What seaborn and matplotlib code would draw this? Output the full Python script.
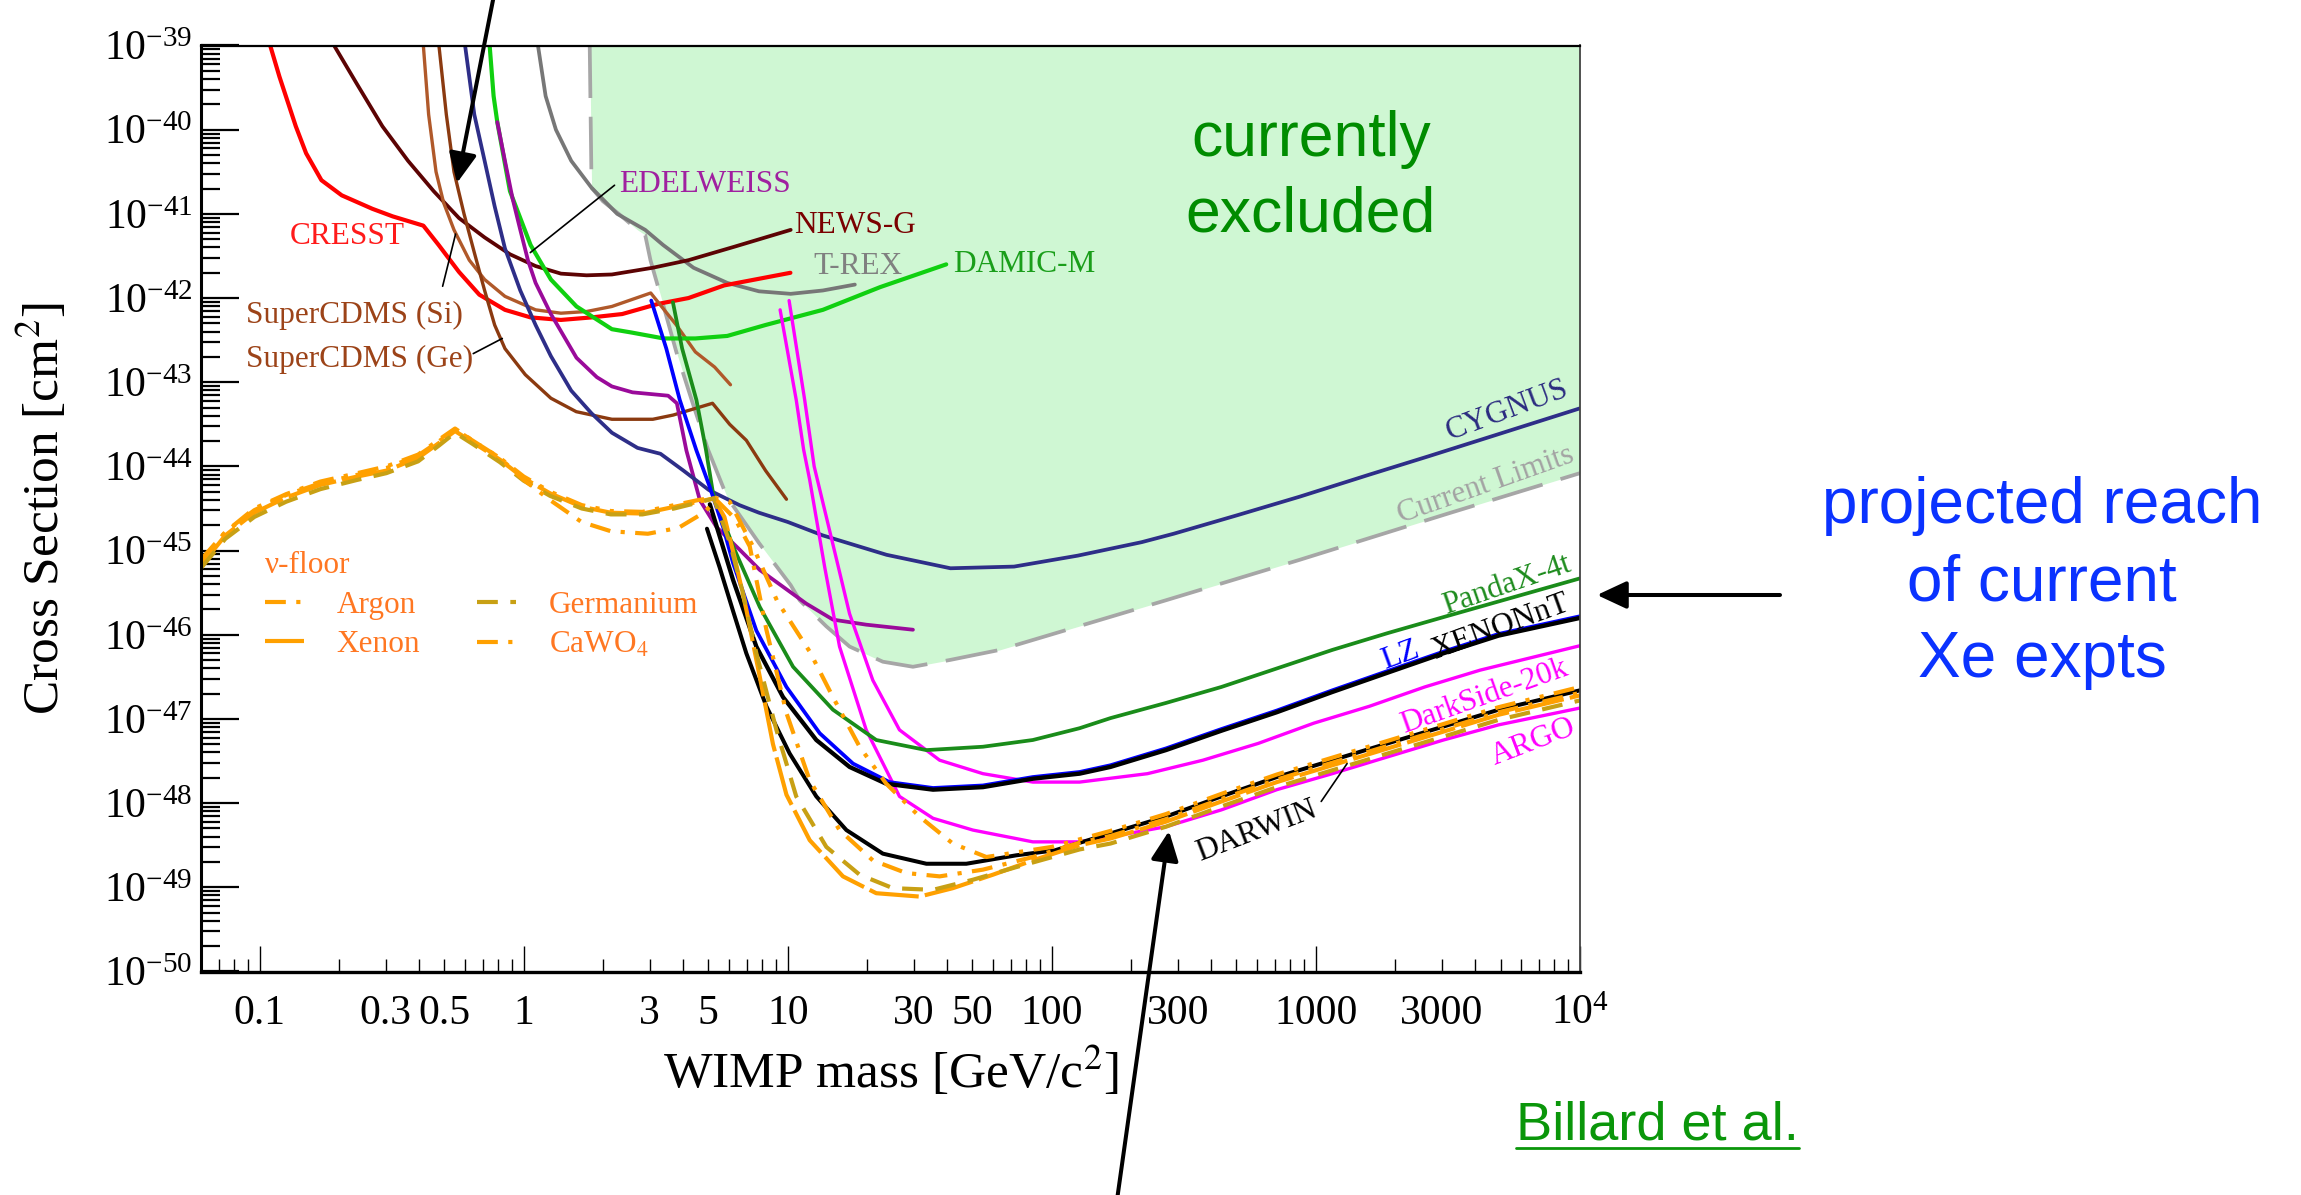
import numpy as np
import pandas as pd
import matplotlib
matplotlib.use("Agg")
import matplotlib.pyplot as plt
import matplotlib.ticker as mticker
from matplotlib.lines import Line2D
import seaborn as sns

# ------------------------------------------------------------------
# Curves: log10(WIMP mass / GeV c^-2) and log10(cross section / cm^2)
# ------------------------------------------------------------------
cresst_logm = [-0.96, -0.925, -0.863, -0.824, -0.766, -0.689, -0.573, -0.496, -0.38, -0.322,
               -0.245, -0.168, -0.071, 0.026, 0.141, 0.257, 0.373, 0.508, 0.624, 0.759, 1.01]
cresst_logs = [-39.0, -39.37, -39.96, -40.28, -40.6, -40.78, -40.94, -41.03, -41.14, -41.37,
               -41.69, -41.96, -42.14, -42.23, -42.26, -42.23, -42.19, -42.07, -42.0, -41.85, -41.7]

newsg_logm = [-0.718, -0.631, -0.535, -0.438, -0.341, -0.245, -0.148, -0.052, 0.045, 0.141,
              0.238, 0.334, 0.489, 0.624, 0.798, 1.011]
newsg_logs = [-39.0, -39.46, -39.96, -40.37, -40.73, -41.05, -41.28, -41.48, -41.62, -41.71,
              -41.73, -41.72, -41.64, -41.55, -41.39, -41.19]

cdms_si_logm = [-0.38, -0.36, -0.332, -0.303, -0.264, -0.206, -0.148, -0.071, 0.045, 0.141,
                0.238, 0.334, 0.481, 0.578, 0.65, 0.723, 0.783]
cdms_si_logs = [-39.0, -39.82, -40.5, -40.87, -41.19, -41.55, -41.78, -41.98, -42.14, -42.18,
                -42.16, -42.1, -41.94, -42.32, -42.64, -42.82, -43.03]

cdms_ge_logm = [-0.321, -0.293, -0.264, -0.226, -0.187, -0.148, -0.11, -0.071, 0.006, 0.103,
                0.199, 0.334, 0.489, 0.566, 0.715, 0.78, 0.843, 0.916, 0.995]
cdms_ge_logs = [-39.0, -39.82, -40.5, -41.0, -41.46, -41.91, -42.32, -42.6, -42.91, -43.19,
                -43.35, -43.44, -43.44, -43.39, -43.25, -43.5, -43.69, -44.05, -44.39]

edelweiss_logm = [-0.1, -0.071, -0.042, -0.013, 0.016, 0.045, 0.103, 0.2, 0.277, 0.334, 0.412,
                  0.547, 0.58, 0.616, 0.667, 0.73, 0.818, 0.894, 0.982, 1.07, 1.171, 1.297, 1.474]
edelweiss_logs = [-39.91, -40.37, -40.82, -41.19, -41.55, -41.82, -42.19, -42.71, -42.94, -43.05,
                  -43.12, -43.16, -43.25, -43.81, -44.40, -44.72, -44.99, -45.23, -45.43, -45.63,
                  -45.82, -45.88, -45.94]

damic_logm = [-0.129, -0.114, -0.1, -0.052, 0.026, 0.103, 0.2, 0.334, 0.409, 0.53, 0.65, 0.771,
              0.916, 1.133, 1.35, 1.6]
damic_logs = [-39.0, -39.6, -39.91, -40.73, -41.37, -41.78, -42.1, -42.37, -42.41, -42.48, -42.48,
              -42.45, -42.32, -42.14, -41.87, -41.6]

trex_logm = [0.054, 0.083, 0.122, 0.18, 0.257, 0.354, 0.46, 0.528, 0.643, 0.771, 0.891, 1.011,
             1.133, 1.254]
trex_logs = [-39.0, -39.6, -40.0, -40.37, -40.69, -41.0, -41.19, -41.37, -41.64, -41.82, -41.92,
             -41.95, -41.91, -41.84]

limits_logm = [0.25, 0.257, 0.3, 0.36, 0.431, 0.46, 0.48, 0.53, 0.578, 0.638, 0.698, 0.771, 0.891,
               1.011, 1.045, 1.146, 1.234, 1.36, 1.474, 1.613, 1.802, 2.432, 2.938, 3.5, 4.0]
limits_logs = [-39.0, -40.69, -40.85, -41.0, -41.19, -41.25, -41.55, -42.1, -42.64, -43.23, -43.8,
               -44.37, -44.91, -45.41, -45.59, -45.9, -46.14, -46.32, -46.38, -46.3, -46.18,
               -45.59, -45.11, -44.56, -44.08]

cygnus_logm = [-0.222, -0.187, -0.148, -0.11, -0.071, -0.013, 0.045, 0.103, 0.18, 0.257, 0.334,
               0.431, 0.518, 0.605, 0.701, 0.817, 0.891, 1.0, 1.133, 1.374, 1.616, 1.857, 2.098,
               2.34, 2.461, 2.702, 2.938, 3.2, 3.426, 3.668, 4.0]
cygnus_logs = [-39.0, -39.82, -40.37, -40.91, -41.41, -41.91, -42.32, -42.69, -43.1, -43.37, -43.6,
               -43.78, -43.85, -44.05, -44.28, -44.46, -44.55, -44.66, -44.82, -45.05, -45.21,
               -45.19, -45.06, -44.9, -44.8, -44.58, -44.36, -44.1, -43.88, -43.64, -43.31]

pandax_logm = [0.565, 0.6, 0.654, 0.69, 0.717, 0.793, 0.894, 1.02, 1.171, 1.335, 1.525, 1.739,
               1.928, 2.105, 2.222, 2.432, 2.642, 2.852, 3.062, 3.272, 3.483, 3.73, 4.0]
pandax_logs = [-42.05, -42.6, -43.21, -43.8, -44.32, -44.95, -45.67, -46.38, -46.89, -47.25,
               -47.37, -47.33, -47.25, -47.11, -46.99, -46.81, -46.62, -46.40, -46.18, -45.98,
               -45.79, -45.57, -45.33]

lz_logm = [0.483, 0.54, 0.591, 0.654, 0.704, 0.755, 0.793, 0.881, 0.995, 1.121, 1.247, 1.385,
           1.55, 1.739, 1.928, 2.105, 2.222, 2.432, 2.642, 2.852, 3.062, 3.272, 3.483, 3.692, 4.0]
lz_logs = [-42.03, -42.6, -43.21, -43.81, -44.24, -44.72, -45.15, -45.95, -46.62, -47.17, -47.53,
           -47.75, -47.82, -47.79, -47.69, -47.63, -47.55, -47.35, -47.12, -46.90, -46.66, -46.43,
           -46.20, -45.99, -45.78]

xenonnt_logm = [0.705, 0.793, 0.881, 0.982, 1.108, 1.234, 1.373, 1.55, 1.739, 1.928, 2.105, 2.222,
                2.432, 2.642, 2.852, 3.062, 3.272, 3.483, 3.692, 4.0]
xenonnt_logs = [-44.45, -45.35, -46.14, -46.74, -47.25, -47.57, -47.77, -47.84, -47.81, -47.71,
                -47.65, -47.57, -47.37, -47.14, -46.92, -46.68, -46.45, -46.22, -46.01, -45.80]

darwin_logm = [0.694, 0.742, 0.793, 0.843, 0.919, 1.007, 1.108, 1.222, 1.36, 1.525, 1.676, 1.865,
               2.012, 2.222, 2.432, 2.642, 2.852, 3.062, 3.272, 3.483, 3.692, 4.0]
darwin_logs = [-44.74, -45.2, -45.72, -46.22, -46.85, -47.41, -47.92, -48.32, -48.6, -48.72,
               -48.72, -48.62, -48.56, -48.36, -48.16, -47.92, -47.69, -47.49, -47.29, -47.09,
               -46.89, -46.66]

darkside_logm = [1.005, 1.064, 1.1, 1.146, 1.234, 1.322, 1.423, 1.575, 1.739, 1.928, 2.105, 2.362,
                 2.572, 2.782, 2.992, 3.202, 3.412, 3.622, 4.0]
darkside_logs = [-42.03, -43.21, -44.0, -44.6, -45.75, -46.54, -47.13, -47.49, -47.65, -47.75,
                 -47.75, -47.65, -47.49, -47.29, -47.05, -46.85, -46.62, -46.42, -46.13]

argo_logm = [0.971, 1.032, 1.06, 1.083, 1.14, 1.196, 1.297, 1.423, 1.55, 1.701, 1.928, 2.105,
             2.222, 2.432, 2.642, 2.852, 3.062, 3.272, 3.483, 3.692, 4.0]
argo_logs = [-42.14, -43.21, -43.8, -44.16, -45.2, -46.14, -47.13, -47.92, -48.18, -48.32, -48.46,
             -48.46, -48.40, -48.28, -48.08, -47.84, -47.65, -47.45, -47.25, -47.07, -46.87]

# ---- neutrino floors ----
floor_xe_logm = [-1.22, -1.13, -1.02, -0.9, -0.77, -0.63, -0.52, -0.4, -0.32, -0.26, -0.19, -0.09,
                 0.0, 0.1, 0.22, 0.33, 0.45, 0.57, 0.66, 0.72, 0.76, 0.8, 0.843, 0.894, 0.944,
                 0.995, 1.083, 1.209, 1.335, 1.499, 1.625, 1.777, 1.928, 2.105, 2.222, 2.432,
                 2.642, 2.852, 3.062, 3.272, 3.483, 3.692, 4.0]
floor_xe_logs = [-45.17, -44.82, -44.55, -44.37, -44.22, -44.12, -44.05, -43.9, -43.72, -43.58,
                 -43.72, -43.92, -44.14, -44.32, -44.48, -44.55, -44.56, -44.48, -44.42, -44.38,
                 -44.6, -45.1, -45.7, -46.5, -47.3, -47.9, -48.44, -48.87, -49.07, -49.11, -49.01,
                 -48.85, -48.68, -48.5, -48.42, -48.22, -47.98, -47.75, -47.55, -47.35, -47.15,
                 -46.95, -46.72]

floor_ge_logm = [-1.22, -1.13, -1.02, -0.9, -0.77, -0.63, -0.52, -0.4, -0.32, -0.26, -0.19, -0.09,
                 0.0, 0.1, 0.22, 0.33, 0.45, 0.57, 0.66, 0.72, 0.78, 0.83, 0.881, 0.957, 1.032,
                 1.146, 1.272, 1.398, 1.55, 1.701, 1.865, 2.105, 2.222, 2.432, 2.642, 2.852,
                 3.062, 3.272, 3.483, 3.692, 4.0]
floor_ge_logs = [-45.2, -44.86, -44.6, -44.42, -44.27, -44.16, -44.08, -43.94, -43.75, -43.6,
                 -43.74, -43.95, -44.17, -44.35, -44.5, -44.57, -44.57, -44.5, -44.43, -44.38,
                 -44.9, -45.5, -46.22, -47.13, -47.92, -48.52, -48.85, -49.01, -49.03, -48.91,
                 -48.76, -48.55, -48.48, -48.28, -48.04, -47.81, -47.61, -47.41, -47.21, -47.01,
                 -46.78]

floor_ar_logm = [-1.22, -1.13, -1.02, -0.9, -0.77, -0.63, -0.52, -0.4, -0.32, -0.26, -0.19, -0.09,
                 0.0, 0.1, 0.22, 0.33, 0.45, 0.57, 0.66, 0.72, 0.78, 0.868, 0.96, 1.083, 1.171,
                 1.272, 1.373, 1.499, 1.625, 1.752, 2.0, 2.222, 2.432, 2.642, 2.852, 3.062, 3.272,
                 3.483, 3.692, 4.0]
floor_ar_logs = [-45.12, -44.78, -44.52, -44.34, -44.2, -44.1, -44.02, -43.87, -43.7, -43.56,
                 -43.7, -43.9, -44.12, -44.3, -44.46, -44.53, -44.54, -44.46, -44.4, -44.37,
                 -44.42, -44.95, -45.6, -46.2, -46.74, -47.33, -47.77, -48.16, -48.48, -48.64,
                 -48.52, -48.33, -48.13, -47.89, -47.66, -47.46, -47.26, -47.06, -46.86, -46.62]

floor_cawo_logm = [-1.22, -1.13, -1.02, -0.9, -0.77, -0.63, -0.52, -0.4, -0.32, -0.26, -0.19,
                   -0.09, 0.0, 0.1, 0.219, 0.33, 0.47, 0.586, 0.682, 0.73, 0.8, 0.856, 0.919,
                   0.995, 1.083, 1.196, 1.322, 1.448, 1.575, 1.739, 1.928, 2.105, 2.222, 2.432,
                   2.642, 2.852, 3.062, 3.272, 3.483, 3.692, 4.0]
floor_cawo_logs = [-45.1, -44.78, -44.5, -44.33, -44.18, -44.08, -44.0, -43.86, -43.68, -43.55,
                   -43.7, -43.9, -44.16, -44.4, -44.66, -44.77, -44.8, -44.73, -44.55, -44.4,
                   -44.62, -44.95, -45.94, -46.93, -47.73, -48.32, -48.68, -48.83, -48.87, -48.79,
                   -48.64, -48.47, -48.39, -48.19, -47.95, -47.72, -47.52, -47.32, -47.12,
                   -46.92, -46.69]

# ---- axis ticks ----
x_major_ticks = [0.1, 1, 10, 100, 1000, 1e4]
x_major_labels = ["0.1", "1", "10", "100", "1000", r"$\mathdefault{10^{4}}$"]
x_minor_labels = {0.3: "0.3", 0.5: "0.5", 3: "3", 5: "5", 30: "30", 50: "50",
                  300: "300", 3000: "3000"}
y_decades = list(range(-50, -38))

# ------------------------------------------------------------------
sns.set_theme(style="white")
plt.rcParams["font.family"] = ["Liberation Serif", "DejaVu Serif"]
plt.rcParams["mathtext.fontset"] = "stix"

W, H = 2301, 1195
fig = plt.figure(figsize=(W / 100, H / 100), dpi=100)
fig.patch.set_facecolor("white")
ax = fig.add_axes([201 / W, 1 - 971.5 / H, (1580 - 201) / W, (971.5 - 45.5) / H])
ax.set_facecolor("white")
ax.set_xscale("log")
ax.set_yscale("log")


def curve(logm, logs, color, lw, style="-", z=2.0):
    df = pd.DataFrame({"mass": np.power(10.0, logm), "xsec": np.power(10.0, logs)})
    sns.lineplot(data=df, x="mass", y="xsec", ax=ax, color=color, linewidth=lw,
                 linestyle=style, sort=False, estimator=None, legend=False, zorder=z)
    line = ax.lines[-1]
    line.set_solid_joinstyle("round")
    line.set_dash_joinstyle("round")
    return line


# excluded region above the current limits
lim_m = np.power(10.0, limits_logm)
lim_s = np.power(10.0, limits_logs)
ax.fill_between(lim_m, lim_s, 1e-39, color="#cff7d3", lw=0, zorder=0.5)

curve(limits_logm, limits_logs, "#a6a6a6", 2.7, (0, (14, 5)), z=1.5)
curve(trex_logm, trex_logs, "#777777", 2.7)
curve(cresst_logm, cresst_logs, "#ff0000", 3.0)
curve(newsg_logm, newsg_logs, "#5c0303", 2.7)
curve(cdms_si_logm, cdms_si_logs, "#b0592a", 2.4)
curve(cdms_ge_logm, cdms_ge_logs, "#8b3a10", 2.4)
curve(damic_logm, damic_logs, "#10d010", 3.0)
curve(edelweiss_logm, edelweiss_logs, "#9a0a9a", 2.7)
curve(cygnus_logm, cygnus_logs, "#2e2e88", 2.7)
curve(darkside_logm, darkside_logs, "#ff00ff", 2.4)
curve(argo_logm, argo_logs, "#ff00ff", 2.4)
curve(pandax_logm, pandax_logs, "#1a8c1a", 2.7)
curve(lz_logm, lz_logs, "#0000ff", 2.7)
curve(xenonnt_logm, xenonnt_logs, "#000000", 3.1)
curve(darwin_logm, darwin_logs, "#000000", 2.9)

orange = "#ffa000"
h_ar = curve(floor_ar_logm, floor_ar_logs, orange, 3.0, (0, (5, 2.5, 1, 2.5, 1, 2.5)), z=3)
h_xe = curve(floor_xe_logm, floor_xe_logs, orange, 3.0, (0, (12, 1.5)), z=3)
h_ge = curve(floor_ge_logm, floor_ge_logs, "#c8a014", 3.0, (0, (5, 3)), z=3)
h_ca = curve(floor_cawo_logm, floor_cawo_logs, orange, 3.0, (0, (5, 2.5, 1, 2.5)), z=3)

ax.set_xlim(10 ** -1.222, 1e4)
ax.set_ylim(1e-50, 1e-39)

# ---- ticks ----
minor_x = [d * 10.0 ** e for e in range(-2, 4) for d in range(2, 10)]
minor_x = [v for v in minor_x if 0.06 <= v < 1e4]
ax.xaxis.set_major_locator(mticker.FixedLocator(x_major_ticks))
ax.xaxis.set_major_formatter(mticker.FixedFormatter(x_major_labels))
ax.xaxis.set_minor_locator(mticker.FixedLocator(minor_x))


def minor_fmt(v, pos):
    for k, s in x_minor_labels.items():
        if abs(v / k - 1) < 1e-6:
            return s
    return ""


ax.xaxis.set_minor_formatter(mticker.FuncFormatter(minor_fmt))
ax.yaxis.set_major_locator(mticker.FixedLocator([10.0 ** e for e in y_decades]))
ax.yaxis.set_major_formatter(mticker.FixedFormatter(
    [r"$\mathdefault{10^{%d}}$" % e for e in y_decades]))
ax.yaxis.set_minor_locator(mticker.LogLocator(base=10, subs=np.arange(2, 10), numticks=100))
ax.yaxis.set_minor_formatter(mticker.NullFormatter())

ax.tick_params(axis="x", which="major", direction="in", length=19, width=1.0, pad=37.5,
               labelsize=30, bottom=True, top=False, colors="black")
ax.tick_params(axis="x", which="minor", direction="in", length=9.5, width=1.0, pad=37.5,
               labelsize=30, bottom=True, top=False, colors="black")
ax.tick_params(axis="y", which="major", direction="in", length=27, width=1.6, pad=6,
               labelsize=30, left=True, right=False, colors="black")
ax.tick_params(axis="y", which="minor", direction="in", length=14, width=1.6,
               left=True, right=False, colors="black")
for lab in ax.get_xticklabels(which="both"):
    lab.set_verticalalignment("baseline")

for side, lw in (("left", 2.2), ("bottom", 2.4), ("top", 1.6), ("right", 1.3)):
    ax.spines[side].set_visible(True)
    ax.spines[side].set_linewidth(lw)
    ax.spines[side].set_color("black" if side != "right" else "#444444")
    ax.spines[side].set_zorder(5)

ax.set_xlabel("WIMP mass [GeV/c$^2$]", fontsize=37, color="black")
ax.set_ylabel("Cross Section [cm$^2$]", fontsize=37, color="black")
ax.xaxis.set_label_coords(0.5, -0.079)
ax.yaxis.set_label_coords(-0.095, 0.5)

# ---- curve labels ----
lab_kw = dict(fontsize=22.5, zorder=6)


def lg(v):
    return 10.0 ** v


ax.text(lg(-0.667), lg(-41.27), "CRESST", color="#ff1a1a", ha="center", va="center", **lab_kw)
ax.text(lg(-1.052), lg(-42.21), "SuperCDMS (Si)", color="#9c4318", ha="left", va="center", **lab_kw)
ax.text(lg(-1.052), lg(-42.73), "SuperCDMS (Ge)", color="#9c4318", ha="left", va="center", **lab_kw)
ax.text(lg(0.363), lg(-40.65), "EDELWEISS", color="#a020a0", ha="left", va="center", **lab_kw)
ax.text(lg(1.024), lg(-41.14), "NEWS-G", color="#7a0000", ha="left", va="center", **lab_kw)
ax.text(lg(1.097), lg(-41.62), "T-REX", color="#808080", ha="left", va="center", **lab_kw)
ax.text(lg(1.628), lg(-41.60), "DAMIC-M", color="#1a9e1a", ha="left", va="center", **lab_kw)

rot_kw = dict(ha="center", va="center", rotation_mode="anchor", **lab_kw)
ax.text(lg(3.725), lg(-43.33), "CYGNUS", color="#2b2b80", rotation=20.5, **rot_kw)
ax.text(lg(3.644), lg(-44.22), "Current Limits", color="#a3a3a3", rotation=19.5, **rot_kw)
ax.text(lg(3.723), lg(-45.41), "PandaX-4t", color="#1e8c1e", rotation=19, **rot_kw)
ax.text(lg(3.322), lg(-46.25), "LZ", color="#0000ff", rotation=20, **rot_kw)
ax.text(lg(3.70), lg(-45.91), "XENONnT", color="black", rotation=20, **rot_kw)
ax.text(lg(3.637), lg(-46.74), "DarkSide-20k", color="#ff00ff", rotation=19.5, **rot_kw)
ax.text(lg(3.825), lg(-47.27), "ARGO", color="#ff00ff", rotation=21, **rot_kw)
ax.text(lg(2.775), lg(-48.33), "DARWIN", color="black", rotation=21, **rot_kw)

# leader lines from labels to curves
leaders = [((-0.307, -41.86), (-0.258, -41.24)),
           ((-0.191, -42.66), (-0.081, -42.48)),
           ((0.344, -40.66), (0.025, -41.46)),
           ((3.02, -47.98), (3.118, -47.53))]
for (x0, y0), (x1, y1) in leaders:
    ax.annotate("", xy=(lg(x1), lg(y1)), xytext=(lg(x0), lg(y0)),
                arrowprops=dict(arrowstyle="-", color="black", lw=1.2,
                                shrinkA=0, shrinkB=0), zorder=6)

# neutrino-floor legend
leg = ax.legend(handles=[h_ar, h_xe, h_ge, h_ca],
                labels=["Argon", "Xenon", "Germanium", "CaWO$_4$"],
                ncol=2, loc="upper left", bbox_to_anchor=(0.0464, 0.454),
                frameon=False, borderpad=0, borderaxespad=0, fontsize=22.5,
                title="ν-floor", title_fontsize=22.5, alignment="left",
                handlelength=1.25, handletextpad=1.05, columnspacing=1.8,
                labelspacing=0.34, labelcolor="#ff7722")
leg.get_title().set_color("#ff7722")

# ---- slide annotations ----
sans = ["Liberation Sans", "DejaVu Sans"]
# multi-line text: y gives the baseline of the last line
fig.text(1311 / W, 1 - 232 / H, "currently\nexcluded", ha="center", va="baseline",
         fontsize=45, color="#008c00", family=sans, linespacing=1.38)
fig.text(2042 / W, 1 - 677 / H, "projected reach\nof current\nXe expts", ha="center",
         va="baseline", fontsize=46, color="#0a32ff", family=sans, linespacing=1.36,
         multialignment="center")
billard = fig.text(1516 / W, 1 - 1140 / H, "Billard et al.", ha="left", va="baseline",
                   fontsize=39, color="#0a960a", family=sans)

arrow_kw = dict(arrowstyle="-|>,head_length=0.45,head_width=0.21", color="black",
                lw=2.9, mutation_scale=40, shrinkA=0, shrinkB=0)
for tail, tip in (((494, H + 5), (457, H - 183)),
                  ((1780, H - 595), (1597, H - 595)),
                  ((1117, -5), (1169, H - 831))):
    ax.annotate("", xy=tip, xycoords="figure pixels", xytext=tail,
                textcoords="figure pixels", arrowprops=arrow_kw, annotation_clip=False,
                zorder=10)

fig.canvas.draw()
bb = billard.get_window_extent()
fig.add_artist(Line2D([bb.x0 / W, bb.x1 / W], [47 / H, 47 / H], color="#0a960a",
                      lw=2.0, transform=fig.transFigure))

fig.savefig("out.png", dpi=100, facecolor="white")
